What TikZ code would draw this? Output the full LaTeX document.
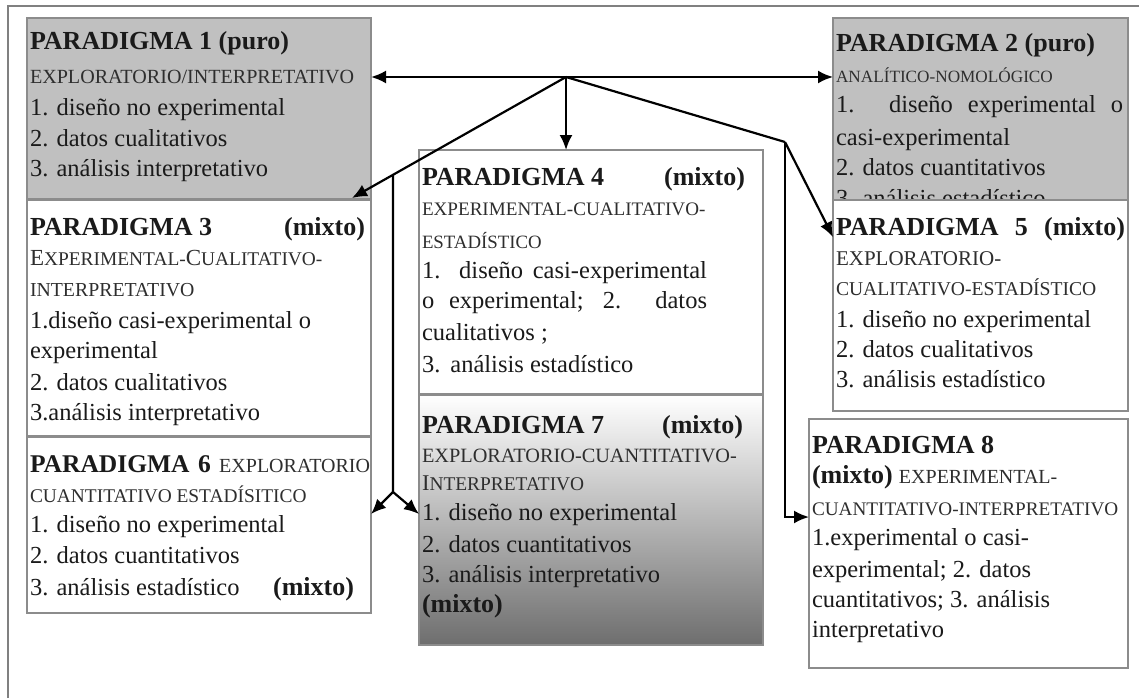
\documentclass[tikz,border=0pt]{standalone}
\usepackage{fontspec}
\setmainfont{Liberation Serif}
\usetikzlibrary{arrows.meta,calc}
\definecolor{boxgray}{HTML}{C0C0C0}
\definecolor{edgegray}{HTML}{8C8C8C}
\definecolor{framegray}{HTML}{808080}
\definecolor{ink}{HTML}{1A1A1A}
\definecolor{subink}{HTML}{2E2E2E}
\definecolor{shmid}{HTML}{DADADA}
\definecolor{shbot}{HTML}{6E6E6E}
\newcommand\fT{\fontsize{26}{30}\selectfont\bfseries}
\newcommand\fSz[1]{\fontsize{#1}{#1}\selectfont}
\newcommand\fB{\fontsize{24.5}{29}\selectfont}
\begin{document}
\begin{tikzpicture}[x=1pt,y=-1pt,
  box/.style={draw=edgegray, line width=2pt, anchor=north west, inner sep=0pt, outer sep=0pt},
  whitebox/.style={box, fill=white},
  graybox/.style={box, fill=boxgray},
  tx/.style={anchor=base west, inner sep=0pt, outer sep=0pt, text=ink, font=\fB},
  ttl/.style={tx, font=\fT},
  sub/.style={tx, font={\fSz{19}}, text=subink},
  conn/.style={line width=2.2pt, black},
  arr/.style={conn, -{Latex[length=15pt,width=13pt]}},
]
\useasboundingbox (0,0) rectangle (1139,698);
% outer frame (cropped)
\draw[framegray, line width=2.5pt] (8,698) -- (8,6) -- (1139,6);

% ---------- PARADIGMA 1 ----------
\node[graybox, minimum width=344pt, minimum height=181pt] (p1) at (27,18) {};
\node[ttl] (p1t) at (30,50) {PARADIGMA 1 (puro)};
\node[sub, font={\fSz{20.1}}] (p1s) at (30,84) {EXPLORATORIO/INTERPRETATIVO};
\node[tx] (p1a) at (30,116) {1. diseño no experimental};
\node[tx] (p1b) at (30,146) {2. datos cualitativos};
\node[tx] (p1c) at (30,176) {3. análisis interpretativo};

% ---------- PARADIGMA 3 ----------
\node[whitebox, minimum width=344pt, minimum height=236pt] (p3) at (27,200) {};
\node[ttl] (p3t) at (30,235) {\makebox[335pt]{PARADIGMA 3\hfill(mixto)}};
\node[sub, font={\fSz{19.4}}] (p3s) at (30,265) {{\fSz{23}E}XPERIMENTAL-{\fSz{23}C}UALITATIVO-};
\node[sub, font={\fSz{19.8}}] (p3s2) at (30,296) {INTERPRETATIVO};
\node[tx] (p3a) at (30,328) {1.diseño casi-experimental o};
\node[tx] (p3b) at (30,358) {experimental};
\node[tx] (p3c) at (30,390) {2. datos cualitativos};
\node[tx] (p3d) at (30,420) {3.análisis interpretativo};

% ---------- PARADIGMA 6 ----------
\node[whitebox, minimum width=344pt, minimum height=176pt] (p6) at (27,437) {};
\node[tx] (p6t) at (30,472) {\makebox[340pt][s]{{\fontsize{25.5}{30}\selectfont\bfseries PARADIGMA} {\fontsize{25.5}{30}\selectfont\bfseries 6} {\fSz{20}\color{subink}EXPLORATORIO}}};
\node[sub, font={\fSz{19.4}}] (p6s) at (30,502) {CUANTITATIVO ESTADÍSITICO};
\node[tx] (p6a) at (30,532) {1. diseño no experimental};
\node[tx] (p6b) at (30,563) {2. datos cuantitativos};
\node[tx] (p6c) at (30,595) {\makebox[324pt]{3. análisis estadístico\hfill{\fT (mixto)}}};

% ---------- PARADIGMA 4 ----------
\node[whitebox, minimum width=344pt, minimum height=244pt] (p4) at (419,150) {};
\node[ttl] (p4t) at (422,185) {\makebox[323pt]{PARADIGMA 4\hfill(mixto)}};
\node[sub, font={\fSz{19.1}}] (p4s) at (422,215) {EXPERIMENTAL-CUALITATIVO-};
\node[sub, font={\fSz{18.8}}] (p4s2) at (422,248) {ESTADÍSTICO};
\node[tx] (p4a) at (422,278) {\makebox[285pt][s]{1. diseño casi-experimental}};
\node[tx] (p4b) at (422,308) {\makebox[285pt][s]{o experimental; 2. datos}};
\node[tx] (p4c) at (422,340) {cualitativos ;};
\node[tx] (p4d) at (422,372) {3.\hspace{10pt}análisis estadístico};

% ---------- PARADIGMA 7 ----------
\node[box, minimum width=344pt, minimum height=250pt, top color=white, middle color=shmid, bottom color=shbot] (p7) at (419,395) {};
\node[ttl] (p7t) at (422,433) {\makebox[321pt]{PARADIGMA 7\hfill(mixto)}};
\node[sub, font={\fSz{20.3}}] (p7s) at (422,462) {EXPLORATORIO-CUANTITATIVO-};
\node[sub, font={\fSz{19.4}}] (p7s2) at (422,490) {{\fSz{22.5}I}NTERPRETATIVO};
\node[tx] (p7a) at (422,520) {1. diseño no experimental};
\node[tx] (p7b) at (422,552) {2. datos cuantitativos};
\node[tx] (p7c) at (422,582) {3. análisis interpretativo};
\node[ttl] (p7d) at (422,612) {(mixto)};

% ---------- PARADIGMA 2 ----------
\node[graybox, minimum width=295pt, minimum height=200pt] (p2) at (833,18) {};
\node[ttl] (p2t) at (836,52) {PARADIGMA 2 (puro)};
\node[sub, font={\fSz{17.2}}] (p2s) at (836,83) {ANALÍTICO-NOMOLÓGICO};
\node[tx] (p2a) at (836,113) {\makebox[287pt][s]{1. diseño experimental o}};
\node[tx] (p2b) at (836,145) {casi-experimental};
\node[tx] (p2c) at (836,175) {2. datos cuantitativos};
\node[tx] (p2d) at (836,206) {3. análisis estadístico};

% ---------- PARADIGMA 5 ----------
\node[whitebox, minimum width=295pt, minimum height=211pt] (p5) at (833,200) {};
\node[ttl] (p5t) at (836,235) {\makebox[289pt][s]{PARADIGMA 5 (mixto)}};
\node[sub, font={\fSz{21}}] (p5s) at (836,265) {EXPLORATORIO-};
\node[sub, font={\fSz{19.6}}] (p5s2) at (836,295) {CUALITATIVO-ESTADÍSTICO};
\node[tx] (p5a) at (836,327) {1. diseño no experimental};
\node[tx] (p5b) at (836,357) {2. datos cualitativos};
\node[tx] (p5c) at (836,387) {3. análisis estadístico};

% ---------- PARADIGMA 8 ----------
\node[whitebox, minimum width=319pt, minimum height=249pt] (p8) at (809,419) {};
\node[ttl] (p8t) at (812,453) {PARADIGMA 8};
\node[tx] (p8s) at (812,483) {{\fT (mixto)} {\fSz{20}\color{subink}EXPERIMENTAL-}};
\node[sub, font={\fSz{19.2}}] (p8s2) at (812,515) {CUANTITATIVO-INTERPRETATIVO};
\node[tx] (p8a) at (812,545) {1.experimental o casi-};
\node[tx] (p8b) at (812,577) {experimental; 2. datos};
\node[tx] (p8c) at (812,607) {cuantitativos; 3. análisis};
\node[tx] (p8d) at (812,637) {interpretativo};

% ---------- connectors ----------
\coordinate (hub) at (566,77);
\coordinate (p3tip) at (352,198);
\coordinate (lvtop) at ($(hub)!0.8084!(p3tip)$);
\coordinate (lsplit) at (393,492);
\coordinate (rbend) at (785,142);
\coordinate (p5tip) at ($(p5.north west)+(0,37)$);
\coordinate (p8tip) at ($(p8.north west)+(0,98)$);
\coordinate (p6tip) at ($(p6.north east)+(0,77)$);
\coordinate (p7tip) at ($(p7.north west)+(0,119)$);

\draw[arr] (hub) -- (p1.east |- hub);
\draw[arr] (hub) -- (p2.west |- hub);
\draw[arr] (hub) -- (hub |- p4.north);
\draw[arr] (hub) -- (p3tip);
\draw[conn] (lvtop) -- (lsplit);
\draw[arr] (lsplit) -- (p6tip);
\draw[arr] (lsplit) -- (p7tip);
\draw[conn] (hub) -- (rbend);
\draw[arr] (rbend) -- (p5tip);
\draw[arr] (rbend) |- (p8tip);
\end{tikzpicture}
\end{document}
